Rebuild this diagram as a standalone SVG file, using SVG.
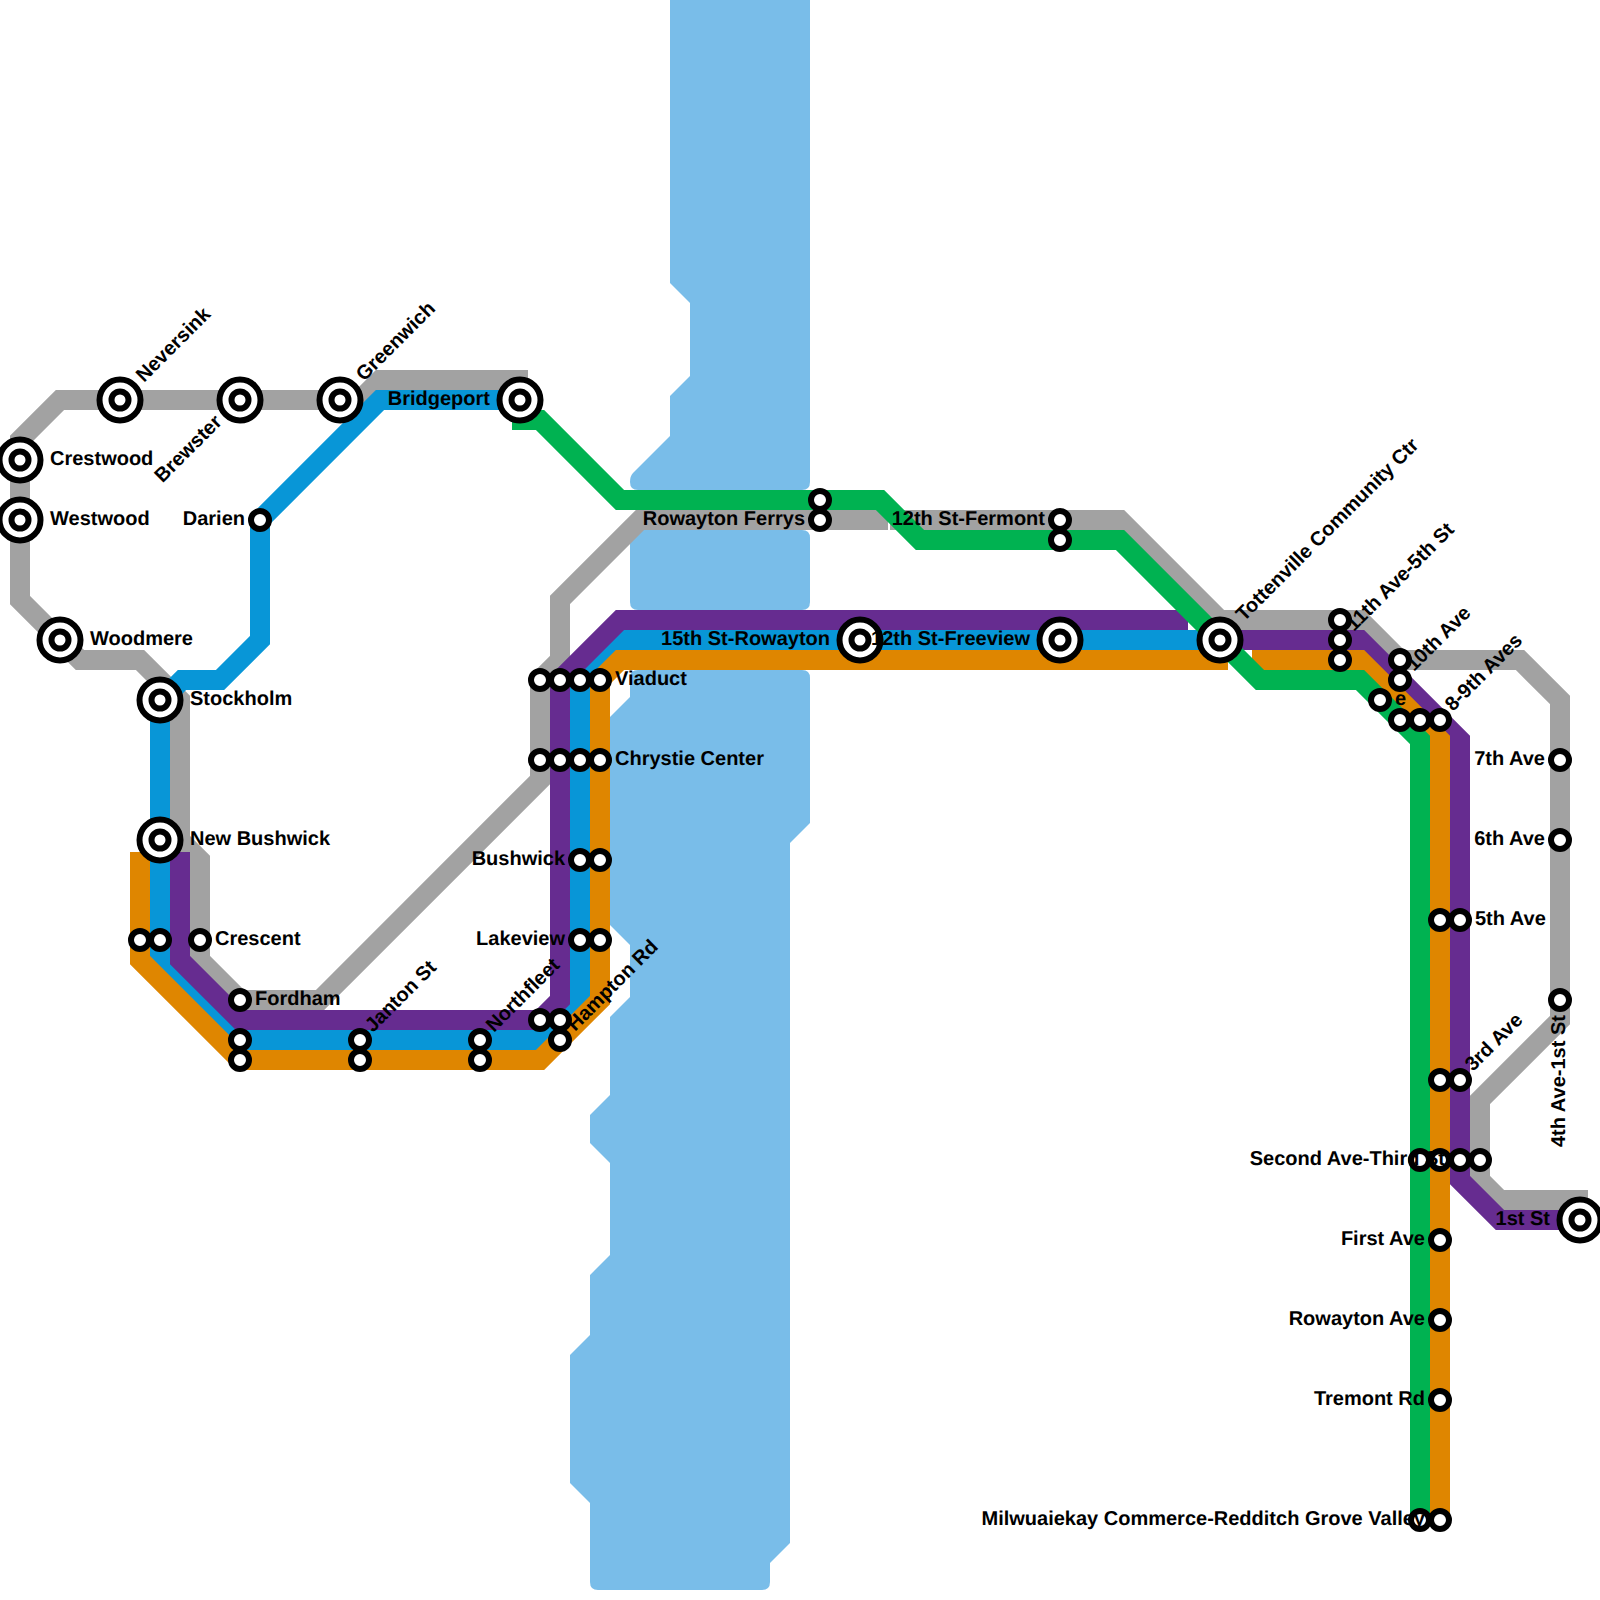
<svg xmlns="http://www.w3.org/2000/svg" width="1600" height="1600" viewBox="0 0 1600 1600">
<style>
.l{fill:none;stroke-width:20;stroke-linejoin:miter;stroke-linecap:square}
.b{stroke-linecap:butt}
.gy{stroke:#a2a2a2}.bl{stroke:#0896d7}.pu{stroke:#662c90}.or{stroke:#df8600}.gn{stroke:#00b251}
.s{fill:#fff;stroke:#000;stroke-width:6}
text{font-family:"Liberation Sans",Arial,sans-serif;font-weight:bold;font-size:20px;fill:#000;text-rendering:geometricPrecision}
.e{text-anchor:end}
</style>
<rect width="1600" height="1600" fill="#fff"/>
<g id="water" fill="#79bde9">
<path d="M670,-10L670,283L690,303L690,376L670,396L670,436L633,473Q630,476 630,482Q630,490 638,490L802,490Q810,490 810,482L810,-10Z"/>
<path d="M638,530L802,530Q810,530 810,538L810,602Q810,610 802,610L638,610Q630,610 630,602L630,538Q630,530 638,530Z"/>
<path d="M638,670L802,670Q810,670 810,678L810,823L790,843L790,1543L770,1563L770,1582Q770,1590 762,1590L598,1590Q590,1590 590,1582L590,1503L570,1483L570,1355L590,1335L590,1275L610,1255L610,1163L590,1143L590,1115L610,1095L610,1017L630,997L630,945L610,925L610,717L630,697L630,678Q630,670 638,670Z"/>
</g>
<g id="connectors">
<path class="l gy" d="M518,380L380,380L360,400L60,400L20,440L20,600L80,660L140,660L180,700L180,840L200,860L200,960L240,1000L320,1000L540,780L540,680L560,660L560,600L640,520L878,520"/>
<path class="l gy" d="M900,520L1120,520L1220,620L1360,620L1400,660L1520,660L1560,700L1560,1020L1480,1100L1480,1180L1500,1200L1578,1200"/>
<path class="l bl" d="M520,400L380,400L260,520L260,640L220,680L182,680L160,702L160,960L240,1040L540,1040L580,1000L580,680L620,640L1220,640"/>
<path class="l pu" d="M180,862L180,960L240,1020L540,1020L560,1000L560,680L620,620L1178,620"/>
<path class="l pu" d="M1220,640L1360,640L1460,740L1460,1180L1500,1220L1580,1220"/>
<path class="l or" d="M140,862L140,960L240,1060L540,1060L600,1000L600,680L620,660L1218,660"/>
<path class="l or b" d="M1252,660L1360,660L1440,740L1440,1526"/>
<path class="l gn b" d="M512,420L540,420L620,500L880,500L920,540L1120,540L1260,680L1360,680L1420,740L1420,1526"/>
</g>
<g id="nodes">
<g id="n-neversink"><circle class="s" cx="120" cy="400" r="20.5"/><circle class="s" cx="120" cy="400" r="8.5"/><text transform="translate(144,383) rotate(-45)">Neversink</text></g>
<g id="n-brewster"><circle class="s" cx="240" cy="400" r="20.5"/><circle class="s" cx="240" cy="400" r="8.5"/><text class="e" transform="translate(223,423) rotate(-45)">Brewster</text></g>
<g id="n-greenwich"><circle class="s" cx="340" cy="400" r="20.5"/><circle class="s" cx="340" cy="400" r="8.5"/><text transform="translate(364,382) rotate(-45)">Greenwich</text></g>
<g id="n-bridgeport"><circle class="s" cx="520" cy="400" r="20.5"/><circle class="s" cx="520" cy="400" r="8.5"/><text class="e" x="490" y="405">Bridgeport</text></g>
<g id="n-crestwood"><circle class="s" cx="20" cy="460" r="20.5"/><circle class="s" cx="20" cy="460" r="8.5"/><text x="50" y="465">Crestwood</text></g>
<g id="n-westwood"><circle class="s" cx="20" cy="520" r="20.5"/><circle class="s" cx="20" cy="520" r="8.5"/><text x="50" y="525">Westwood</text></g>
<g id="n-woodmere"><circle class="s" cx="60" cy="640" r="20.5"/><circle class="s" cx="60" cy="640" r="8.5"/><text x="90" y="645">Woodmere</text></g>
<g id="n-stockholm"><circle class="s" cx="160" cy="700" r="20.5"/><circle class="s" cx="160" cy="700" r="8.5"/><text x="190" y="705">Stockholm</text></g>
<g id="n-newbushwick"><circle class="s" cx="160" cy="840" r="20.5"/><circle class="s" cx="160" cy="840" r="8.5"/><text x="190" y="845">New Bushwick</text></g>
<g id="n-darien"><circle class="s" cx="260" cy="520" r="9"/><text class="e" x="245" y="525">Darien</text></g>
<g id="n-o140"><circle class="s" cx="140" cy="940" r="9"/></g>
<g id="n-b160"><circle class="s" cx="160" cy="940" r="9"/></g>
<g id="n-crescent"><circle class="s" cx="200" cy="940" r="9"/><text x="215" y="945">Crescent</text></g>
<g id="n-b240"><circle class="s" cx="240" cy="1040" r="9"/></g>
<g id="n-o240"><circle class="s" cx="240" cy="1060" r="9"/></g>
<g id="n-fordham"><circle class="s" cx="240" cy="1000" r="9"/><text x="255" y="1005">Fordham</text></g>
<g id="n-o360"><circle class="s" cx="360" cy="1060" r="9"/></g>
<g id="n-janton"><circle class="s" cx="360" cy="1040" r="9"/><text transform="translate(373,1033) rotate(-45)">Janton St</text></g>
<g id="n-o480"><circle class="s" cx="480" cy="1060" r="9"/></g>
<g id="n-northfleet"><circle class="s" cx="480" cy="1040" r="9"/><text transform="translate(494,1033) rotate(-45)">Northfleet</text></g>
<g id="n-g540"><circle class="s" cx="540" cy="1020" r="9"/></g>
<g id="n-p560"><circle class="s" cx="560" cy="1020" r="9"/></g>
<g id="n-hampton"><circle class="s" cx="560" cy="1040" r="9"/><text transform="translate(575,1032) rotate(-45)">Hampton Rd</text></g>
<g id="n-v540"><circle class="s" cx="540" cy="680" r="9"/></g>
<g id="n-v560"><circle class="s" cx="560" cy="680" r="9"/></g>
<g id="n-v580"><circle class="s" cx="580" cy="680" r="9"/></g>
<g id="n-viaduct"><circle class="s" cx="600" cy="680" r="9"/><text x="615" y="685">Viaduct</text></g>
<g id="n-c540"><circle class="s" cx="540" cy="760" r="9"/></g>
<g id="n-c560"><circle class="s" cx="560" cy="760" r="9"/></g>
<g id="n-c580"><circle class="s" cx="580" cy="760" r="9"/></g>
<g id="n-chrystie"><circle class="s" cx="600" cy="760" r="9"/><text x="615" y="765">Chrystie Center</text></g>
<g id="n-bw600"><circle class="s" cx="600" cy="860" r="9"/></g>
<g id="n-bushwick"><circle class="s" cx="580" cy="860" r="9"/><text class="e" x="565" y="865">Bushwick</text></g>
<g id="n-lk600"><circle class="s" cx="600" cy="940" r="9"/></g>
<g id="n-lakeview"><circle class="s" cx="580" cy="940" r="9"/><text class="e" x="565" y="945">Lakeview</text></g>
<g id="n-rf500"><circle class="s" cx="820" cy="500" r="9"/></g>
<g id="n-rowaytonferrys"><circle class="s" cx="820" cy="520" r="9"/><text class="e" x="805" y="525">Rowayton Ferrys</text></g>
<g id="n-f540"><circle class="s" cx="1060" cy="540" r="9"/></g>
<g id="n-fermont"><circle class="s" cx="1060" cy="520" r="9"/><text class="e" x="1045" y="525">12th St-Fermont</text></g>
<g id="n-15th"><circle class="s" cx="860" cy="640" r="20.5"/><circle class="s" cx="860" cy="640" r="8.5"/><text class="e" x="830" y="645">15th St-Rowayton</text></g>
<g id="n-freeview"><circle class="s" cx="1060" cy="640" r="20.5"/><circle class="s" cx="1060" cy="640" r="8.5"/><text class="e" x="1030" y="645">12th St-Freeview</text></g>
<g id="n-tottenville"><circle class="s" cx="1220" cy="640" r="20.5"/><circle class="s" cx="1220" cy="640" r="8.5"/><text transform="translate(1244,622) rotate(-45)">Tottenville Community Ctr</text></g>
<g id="n-e620"><circle class="s" cx="1340" cy="620" r="9"/></g>
<g id="n-e660"><circle class="s" cx="1340" cy="660" r="9"/></g>
<g id="n-11th"><circle class="s" cx="1340" cy="640" r="9"/><text transform="translate(1354,632) rotate(-45)">11th Ave-5th St</text></g>
<g id="n-t660"><circle class="s" cx="1400" cy="660" r="9"/></g>
<g id="n-10th"><circle class="s" cx="1400" cy="680" r="9"/><text transform="translate(1414,672) rotate(-45)">10th Ave</text></g>
<g id="n-e"><circle class="s" cx="1380" cy="700" r="9"/><text x="1395" y="705">e</text></g>
<g id="n-a1400"><circle class="s" cx="1400" cy="720" r="9"/></g>
<g id="n-a1420"><circle class="s" cx="1420" cy="720" r="9"/></g>
<g id="n-89th"><circle class="s" cx="1440" cy="720" r="9"/><text transform="translate(1453,712) rotate(-45)">8-9th Aves</text></g>
<g id="n-7th"><circle class="s" cx="1560" cy="760" r="9"/><text class="e" x="1545" y="765">7th Ave</text></g>
<g id="n-6th"><circle class="s" cx="1560" cy="840" r="9"/><text class="e" x="1545" y="845">6th Ave</text></g>
<g id="n-f1440"><circle class="s" cx="1440" cy="920" r="9"/></g>
<g id="n-5th"><circle class="s" cx="1460" cy="920" r="9"/><text x="1475" y="925">5th Ave</text></g>
<g id="n-4th"><circle class="s" cx="1560" cy="1000" r="9"/><text transform="translate(1565,1147) rotate(-90)">4th Ave-1st St</text></g>
<g id="n-r1440"><circle class="s" cx="1440" cy="1080" r="9"/></g>
<g id="n-3rd"><circle class="s" cx="1460" cy="1080" r="9"/><text transform="translate(1473,1072) rotate(-45)">3rd Ave</text></g>
<g id="n-s1420"><circle class="s" cx="1420" cy="1160" r="9"/></g>
<g id="n-s1440"><circle class="s" cx="1440" cy="1160" r="9"/></g>
<g id="n-s1480"><circle class="s" cx="1480" cy="1160" r="9"/></g>
<g id="n-second"><circle class="s" cx="1460" cy="1160" r="9"/><text class="e" x="1445" y="1165">Second Ave-Third St</text></g>
<g id="n-1st"><circle class="s" cx="1580" cy="1220" r="20.5"/><circle class="s" cx="1580" cy="1220" r="8.5"/><text class="e" x="1550" y="1225">1st St</text></g>
<g id="n-first"><circle class="s" cx="1440" cy="1240" r="9"/><text class="e" x="1425" y="1245">First Ave</text></g>
<g id="n-rowaytonave"><circle class="s" cx="1440" cy="1320" r="9"/><text class="e" x="1425" y="1325">Rowayton Ave</text></g>
<g id="n-tremont"><circle class="s" cx="1440" cy="1400" r="9"/><text class="e" x="1425" y="1405">Tremont Rd</text></g>
<g id="n-m1420"><circle class="s" cx="1420" cy="1520" r="9"/></g>
<g id="n-milw"><circle class="s" cx="1440" cy="1520" r="9"/><text class="e" x="1425" y="1525">Milwuaiekay Commerce-Redditch Grove Valley</text></g>
</g>
</svg>
